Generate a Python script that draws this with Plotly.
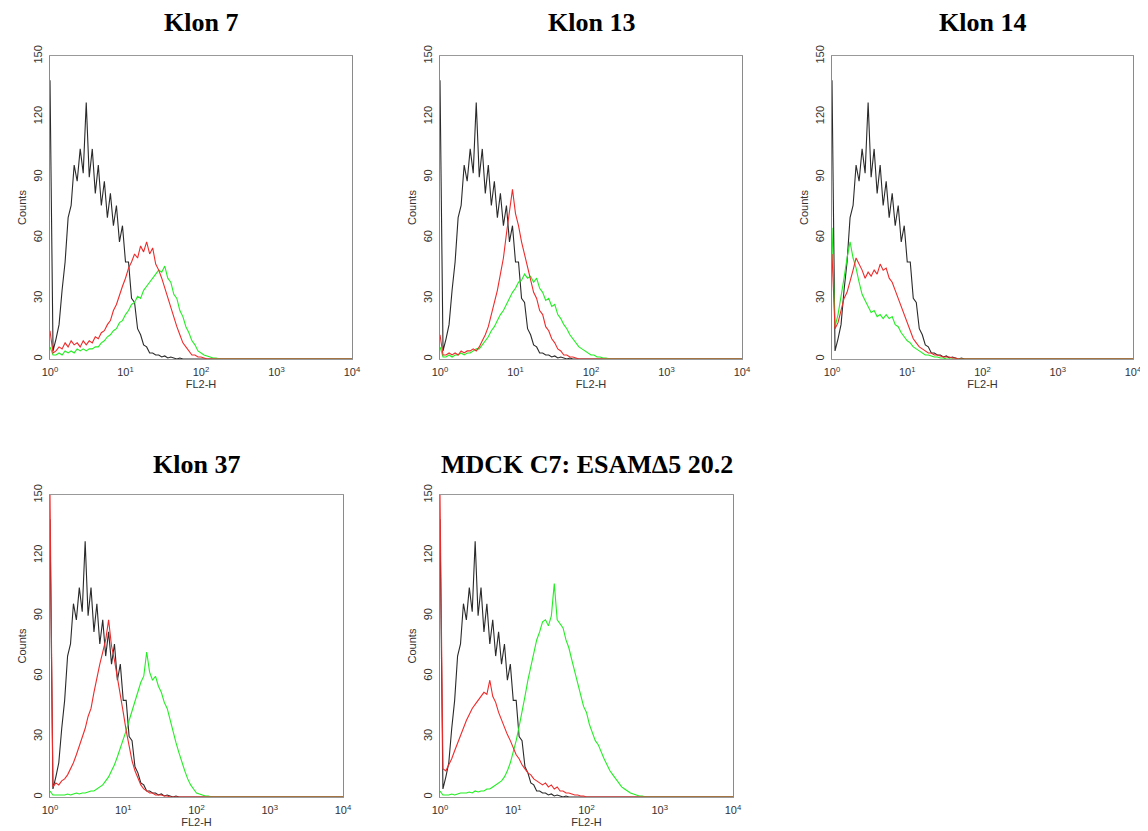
import numpy as np
import plotly.graph_objects as go

# FL2-H channel grid: log-spaced channels, 0.04 decade apart, from 10^0 to 10^4
N_CH = 101
fl2h = np.power(10.0, np.arange(N_CH) * 0.04)

titles = ["Klon 7", "Klon 13", "Klon 14", "Klon 37", "MDCK C7: ESAM\u03945 20.2"]
y_ticks = [0, 30, 60, 90, 120, 150]
x_tickvals = [1, 10, 100, 1000, 10000]
x_ticktext = ["10<sup>0</sup>", "10<sup>1</sup>", "10<sup>2</sup>", "10<sup>3</sup>", "10<sup>4</sup>"]

def pad(v):
    return list(v) + [0] * (N_CH - len(v))

# control (black) histogram, shared by all panels
black = pad([138, 4, 10, 17, 34, 48, 70, 76, 96, 88, 104, 92, 127, 90, 104, 82, 96, 76, 88, 70,
             82, 66, 76, 58, 66, 48, 48, 30, 28, 15, 12, 7, 6, 3, 3, 2, 2, 1, 1.5, 0.5,
             1, 0.5, 0, 0.5])

klon7_red = pad([14, 3, 4, 6, 5, 8, 6, 9, 7, 8, 6, 9, 7, 9, 8, 11, 10, 13, 14, 17,
                 19, 24, 27, 32, 36, 40, 45, 48, 52, 50, 56, 53, 58, 52, 55, 47, 44, 40, 35, 30,
                 26, 20, 16, 12, 8, 6, 4, 2, 2, 1, 1, 0.5])
klon7_green = pad([6, 2, 2, 3, 2, 4, 3, 4, 3, 5, 4, 5, 4, 5, 5, 6, 6, 8, 9, 11,
                   12, 14, 15, 18, 19, 22, 24, 27, 28, 31, 30, 34, 36, 38, 40, 42, 44, 43, 46, 40,
                   38, 32, 30, 24, 21, 16, 13, 9, 7, 4, 3, 2, 1.5, 1, 0.5, 0.5])

klon13_red = pad([12, 2, 2, 3, 2, 3, 2, 4, 3, 4, 4, 5, 4, 6, 9, 12, 16, 22, 27, 34,
                  42, 50, 62, 72, 84, 72, 66, 58, 52, 45, 40, 33, 30, 24, 22, 16, 14, 10, 8, 5,
                  4, 2, 2, 1, 1, 0.5])
klon13_green = pad([6, 1, 1, 2, 1, 2, 2, 3, 2, 3, 3, 4, 5, 5, 7, 9, 11, 14, 16, 19,
                    22, 24, 27, 30, 33, 35, 38, 39, 42, 40, 41, 38, 40, 35, 33, 29, 30, 26, 27, 22,
                    20, 17, 15, 12, 10, 8, 6, 5, 4, 3, 2, 2, 1, 1, 0.5, 0.5])

klon14_red = pad([52, 15, 18, 24, 30, 33, 38, 44, 50, 47, 44, 40, 43, 41, 44, 42, 47, 44, 45, 40,
                  38, 34, 30, 25, 21, 17, 13, 10, 8, 6, 5, 4, 3, 3, 2, 2, 1.5, 1, 1, 1,
                  0.5, 0.5])
klon14_green = pad([65, 16, 22, 30, 40, 50, 58, 50, 45, 38, 32, 29, 26, 23, 24, 21, 22, 20, 22, 20,
                    21, 17, 16, 13, 11, 9, 8, 6, 5, 4, 3, 2, 2, 1.5, 1, 1, 0.5, 0.5])

klon37_red = pad([150, 5, 7, 6, 8, 9, 11, 14, 17, 21, 25, 30, 34, 40, 44, 52, 60, 66, 72, 78,
                  88, 75, 68, 60, 50, 42, 33, 26, 18, 13, 9, 6, 4, 3, 2, 2, 1, 1, 1, 0.5,
                  0.5])
klon37_green = pad([3, 1, 1, 1, 1, 1, 1.5, 1, 1.5, 2, 1.5, 2, 2, 2.5, 3, 3, 4, 5, 6, 8,
                    10, 13, 16, 20, 24, 29, 33, 38, 43, 48, 52, 57, 60, 72, 62, 58, 60, 55, 52, 47,
                    44, 38, 33, 27, 22, 17, 13, 9, 6, 4, 2, 1.5, 1, 0.5, 0.5])

mdck_red = pad([150, 14, 13, 16, 19, 23, 27, 31, 34, 38, 41, 44, 46, 48, 50, 52, 51, 58, 50, 47,
                42, 38, 34, 31, 28, 24, 21, 19, 16, 14, 12, 11, 9, 8, 7, 6, 7, 5, 6, 4,
                5, 3, 3, 2, 2, 1.5, 1, 1, 0.5, 0.5])
mdck_green = pad([3, 1, 1, 1, 1.5, 1, 1.5, 2, 2, 2, 2.5, 2, 3, 2.5, 3, 3, 4, 4, 5, 6,
                  7, 8, 10, 13, 17, 22, 28, 35, 42, 50, 58, 65, 72, 78, 82, 87, 88, 85, 90, 106,
                  88, 86, 84, 78, 74, 68, 62, 56, 50, 45, 42, 36, 32, 28, 26, 22, 19, 16, 13, 11,
                  9, 7, 5, 4, 3, 2, 1.5, 1, 0.5, 0.5])

panels = [
    (klon7_green, klon7_red),
    (klon13_green, klon13_red),
    (klon14_green, klon14_red),
    (klon37_green, klon37_red),
    (mdck_green, mdck_red),
]

OFF = 8  # page body margin
W, H = 1140, 823
# page-pixel boxes (left, right, top, bottom)
boxes = [
    (50, 352, 56, 359),
    (440, 742, 56, 359),
    (832, 1133, 56, 359),
    (50, 343, 495, 797),
    (440, 733, 495, 797),
]
title_y = [23, 23, 23, 464, 464]

def px(x):
    return (x - OFF) / W

def py(y):
    return 1 - (y - OFF) / H

BLACK = "#2a2a2a"
RED = "#ee2b2b"
GREEN = "#22ee22"

fig = go.Figure()
layout = dict(
    width=W, height=H, margin=dict(l=0, r=0, t=0, b=0, autoexpand=False),
    paper_bgcolor="white", plot_bgcolor="white", showlegend=False,
    font=dict(family="Liberation Sans, Arial, sans-serif", size=11, color="#333"),
)
annotations = []
for k, ((g, r), (x0, x1, y0, y1)) in enumerate(zip(panels, boxes)):
    idx = "" if k == 0 else str(k + 1)
    xa, ya = "x" + idx, "y" + idx
    for vals, col in [(black, BLACK), (g, GREEN), (r, RED)]:
        fig.add_trace(go.Scatter(x=fl2h, y=vals, mode="lines", xaxis=xa, yaxis=ya,
                                 line=dict(color=col, width=1.1), hoverinfo="skip"))
    layout["xaxis" + idx] = dict(
        domain=[px(x0), px(x1)], anchor=ya, type="log", range=[0, 4], automargin=False,
        tickvals=x_tickvals, ticktext=x_ticktext, ticks="", ticklabelstandoff=3,
        showline=True, linecolor="#999", linewidth=1, mirror=True,
        showgrid=False, zeroline=False, tickfont=dict(size=11, color="#333"),
        title=dict(text="FL2-H", font=dict(size=11, color="#333"), standoff=0),
    )
    layout["yaxis" + idx] = dict(
        domain=[py(y1), py(y0)], anchor=xa, range=[0, 150], automargin=False,
        tickvals=y_ticks, ticks="", tickangle=-90, ticklabelstandoff=3,
        showline=True, linecolor="#8a8a8a", linewidth=1, mirror=True,
        showgrid=False, zeroline=False, tickfont=dict(size=11, color="#333"),
        title=dict(text="Counts", font=dict(size=11, color="#333"), standoff=2),
    )
    annotations.append(dict(
        text="<b>" + titles[k] + "</b>", x=px((x0 + x1) / 2), y=py(title_y[k]),
        xref="paper", yref="paper", showarrow=False, xanchor="center", yanchor="middle",
        font=dict(family="Liberation Serif, Times New Roman, serif", size=26, color="black"),
    ))
layout["annotations"] = annotations
fig.update_layout(**layout)
fig.write_html("out.html")
